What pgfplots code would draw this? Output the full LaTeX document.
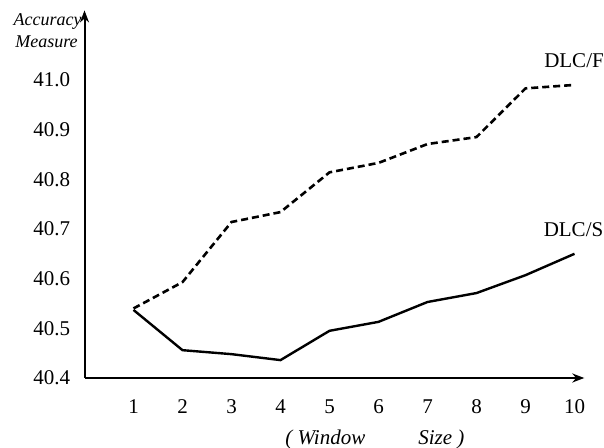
\documentclass[border=0pt]{standalone}
\usepackage{fontspec}
\setmainfont{Liberation Serif}
\usepackage{pgfplots}
\pgfplotsset{compat=1.18}
\usetikzlibrary{arrows.meta}
\begin{document}
\begin{tikzpicture}
\path[use as bounding box] (0,0) rectangle (302pt,224pt);
\begin{axis}[
  at={(42.25pt,35pt)}, anchor=south west,
  scale only axis, width=249.9pt, height=183.8pt,
  xmin=0, xmax=10.2, ymin=40.4, ymax=41.14,
  axis lines=left,
  axis line style={line width=1pt, -{Stealth[length=6pt,width=4.5pt]}},
  major tick length=0pt,
  xtick={1,2,3,4,5,6,7,8,9,10},
  ytick={40.4,40.5,40.6,40.7,40.8,40.9,41.0},
  yticklabels={40.4,40.5,40.6,40.7,40.8,40.9,41.0},
  /pgf/number format/assume math mode=true,
  xticklabel style={anchor=center, inner sep=0pt, yshift=-14.5pt, font=\fontsize{10.5}{12}\selectfont},
  yticklabel style={anchor=east, inner sep=0pt, xshift=-7pt, font=\fontsize{10.5}{12}\selectfont},
  clip=false,
]
\addplot[black, line width=1.3pt, dash pattern=on 3.5pt off 2pt] coordinates {
 (1,40.54) (2,40.593) (3,40.714) (4,40.734) (5,40.814) (6,40.833) (7,40.871) (8,40.885) (9,40.983) (10,40.99)};
\addplot[black, line width=1.2pt] coordinates {
 (1,40.537) (2,40.456) (3,40.448) (4,40.436) (5,40.495) (6,40.513) (7,40.553) (8,40.571) (9,40.607) (10,40.65)};
\end{axis}
\node[anchor=east, font=\small\itshape, inner sep=0pt] at (41pt,213pt) {Accuracy};
\node[anchor=east, font=\small\itshape, inner sep=0pt] at (39pt,203pt) {Measure};
\node[font=\fontsize{10.5}{12}\selectfont, inner sep=0pt] at (287pt,193.5pt) {DLC/F};
\node[font=\fontsize{10.5}{12}\selectfont, inner sep=0pt] at (286.75pt,109pt) {DLC/S};
\node[anchor=base west, font=\fontsize{10.5}{12}\selectfont\itshape, inner sep=0pt] at (142.5pt,1.8pt) {( Window};
\node[anchor=base west, font=\fontsize{10.5}{12}\selectfont\itshape, inner sep=0pt] at (209pt,1.8pt) {Size )};
\end{tikzpicture}
\end{document}
